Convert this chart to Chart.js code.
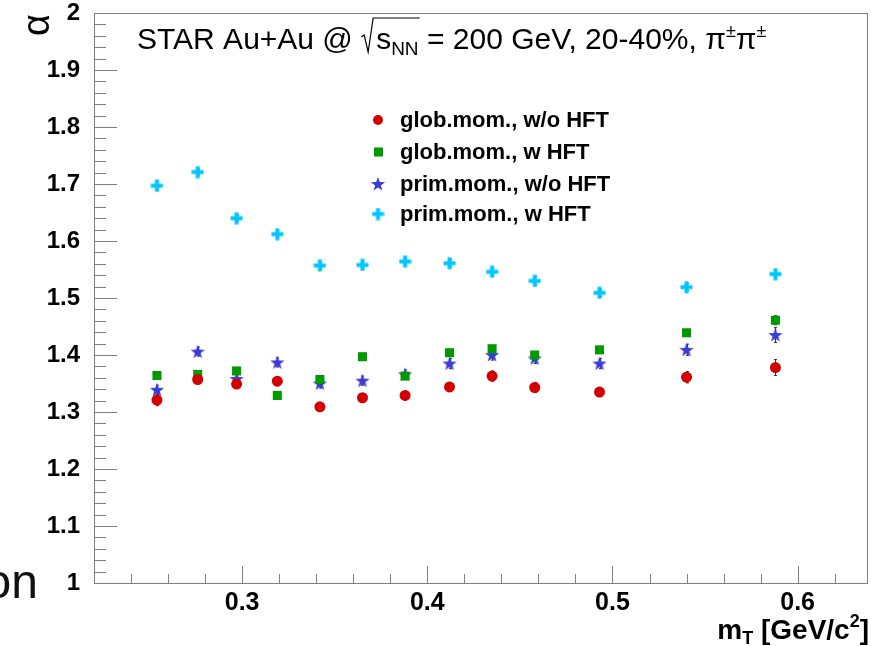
<!DOCTYPE html>
<html>
<head>
<meta charset="utf-8">
<script src="https://cdn.jsdelivr.net/npm/chart.js@4.4.0/dist/chart.umd.min.js"></script>
<style>
  html, body { margin: 0; padding: 0; background: #fff; }
  #wrap { position: relative; width: 871px; height: 646px; }
</style>
</head>
<body>
<div id="wrap"><canvas id="grafico" width="871" height="646"></canvas></div>
<script>
// datos
const mT = [0.254, 0.276, 0.297, 0.319, 0.342, 0.365, 0.388, 0.412, 0.435, 0.458, 0.493, 0.540, 0.588];
const globNoHft = [1.321, 1.357, 1.349, 1.354, 1.309, 1.325, 1.329, 1.344, 1.363, 1.343, 1.335, 1.361, 1.378];
const globHft = [1.364, 1.366, 1.372, 1.329, 1.357, 1.397, 1.363, 1.404, 1.411, 1.400, 1.409, 1.439, 1.461];
const primNoHft = [1.339, 1.406, 1.358, 1.387, 1.350, 1.355, 1.366, 1.385, 1.400, 1.394, 1.385, 1.409, 1.435];
const primHft = [1.697, 1.721, 1.640, 1.612, 1.557, 1.558, 1.564, 1.561, 1.546, 1.530, 1.509, 1.519, 1.542];

const errGlobNoHft = [0.010, 0.006, 0.006, 0.008, 0.006, 0.007, 0.008, 0.008, 0.009, 0.009, 0.006, 0.010, 0.014];
const errGlobHft = [0.004, 0.004, 0.004, 0.004, 0.004, 0.004, 0.005, 0.005, 0.005, 0.006, 0.005, 0.006, 0.008];
const errPrimNoHft = [0.008, 0.008, 0.008, 0.008, 0.008, 0.008, 0.008, 0.009, 0.009, 0.009, 0.009, 0.010, 0.013];
const errPrimHft = [0.008, 0.005, 0.005, 0.005, 0.005, 0.005, 0.005, 0.006, 0.006, 0.007, 0.006, 0.006, 0.008];

const seriesLabels = ['glob.mom., w/o HFT', 'glob.mom., w HFT', 'prim.mom., w/o HFT', 'prim.mom., w HFT'];
const xTickValues = [0.3, 0.4, 0.5, 0.6];
const yTickValues = [1, 1.1, 1.2, 1.3, 1.4, 1.5, 1.6, 1.7, 1.8, 1.9, 2];

const FONT = '"Liberation Sans", Arial, Helvetica, sans-serif';
const colRed = '#d40000';
const colGreen = '#009a00';
const colBlue = '#3b3bd6';
const colCyan = '#00c6ff';

// marcadores tipo ROOT
function crearEstrella(color) {
  const c = document.createElement('canvas');
  c.width = 16; c.height = 16;
  const g = c.getContext('2d');
  g.fillStyle = color;
  g.beginPath();
  for (let i = 0; i < 10; i++) {
    const r = i % 2 === 0 ? 7.5 : 3;
    const a = -Math.PI / 2 + i * Math.PI / 5;
    const px = 8 + r * Math.cos(a), py = 8.5 + r * Math.sin(a);
    if (i === 0) g.moveTo(px, py); else g.lineTo(px, py);
  }
  g.closePath();
  g.fill();
  return c;
}

function crearCruz(color) {
  const c = document.createElement('canvas');
  c.width = 13; c.height = 13;
  const g = c.getContext('2d');
  g.fillStyle = color;
  g.fillRect(4.5, 0.5, 4, 12);
  g.fillRect(0.5, 4.5, 12, 4);
  return c;
}

const estrella = crearEstrella(colBlue);
const cruz = crearCruz(colCyan);

function puntos(ys) {
  return mT.map((x, i) => ({ x: x, y: ys[i] }));
}

const errores = [errGlobNoHft, errGlobHft, errPrimNoHft, errPrimHft];

// barras de error
const pluginErrores = {
  id: 'errores',
  beforeDatasetsDraw(chart) {
    const ctx = chart.ctx;
    const xs = chart.scales.x, ys = chart.scales.y;
    ctx.save();
    ctx.strokeStyle = '#333';
    ctx.lineWidth = 1;
    chart.data.datasets.forEach((ds, k) => {
      ds.data.forEach((p, i) => {
        const px = Math.round(xs.getPixelForValue(p.x)) + 0.5;
        const y1 = ys.getPixelForValue(p.y - errores[k][i]);
        const y2 = ys.getPixelForValue(p.y + errores[k][i]);
        ctx.beginPath();
        ctx.moveTo(px, y1); ctx.lineTo(px, y2);
        ctx.moveTo(px - 1.5, y1); ctx.lineTo(px + 1.5, y1);
        ctx.moveTo(px - 1.5, y2); ctx.lineTo(px + 1.5, y2);
        ctx.stroke();
      });
    });
    ctx.restore();
  }
};

// marco, ticks, titulos y leyenda
const pluginMarco = {
  id: 'marco',
  afterDraw(chart) {
    const ctx = chart.ctx;
    const a = chart.chartArea;
    const xs = chart.scales.x, ys = chart.scales.y;
    ctx.save();
    ctx.strokeStyle = '#808080';
    ctx.lineWidth = 1;
    ctx.strokeRect(Math.round(a.left) + 0.5, Math.round(a.top) + 0.5,
      Math.round(a.right - a.left) - 1, Math.round(a.bottom - a.top));

    ctx.beginPath();
    for (let v = 0.22; v <= xs.max + 1e-9; v += 0.02) {
      const px = Math.round(xs.getPixelForValue(v)) + 0.5;
      const major = Math.abs(v * 10 - Math.round(v * 10)) < 1e-6;
      ctx.moveTo(px, a.bottom);
      ctx.lineTo(px, a.bottom - (major ? 17 : 9));
    }
    for (let v = 1; v <= 2 + 1e-9; v += 0.02) {
      const py = Math.round(ys.getPixelForValue(v)) + 0.5;
      const major = Math.abs(v * 10 - Math.round(v * 10)) < 1e-6;
      ctx.moveTo(a.left, py);
      ctx.lineTo(a.left + (major ? 23 : 12), py);
    }
    ctx.stroke();

    // titulo del eje y
    ctx.fillStyle = '#000';
    ctx.save();
    ctx.translate(39, 25);
    ctx.rotate(-Math.PI / 2);
    ctx.font = '38px ' + FONT;
    ctx.textAlign = 'center';
    ctx.textBaseline = 'middle';
    ctx.fillText('α', 0, 0);
    ctx.restore();

    // titulo del eje x (alineado a la derecha)
    ctx.textBaseline = 'alphabetic';
    ctx.textAlign = 'left';
    const base = 639;
    const piezas = [['m', 28, 0], ['T', 18, 5], [' [GeV/c', 28, 0], ['2', 18, -12], [']', 28, 0]];
    let ancho = 0;
    piezas.forEach(p => { ctx.font = 'bold ' + p[1] + 'px ' + FONT; ancho += ctx.measureText(p[0]).width; });
    let x = 869 - ancho;
    piezas.forEach(p => {
      ctx.font = 'bold ' + p[1] + 'px ' + FONT;
      ctx.fillText(p[0], x, base + p[2]);
      x += ctx.measureText(p[0]).width;
    });

    // titulo del grafico
    const tb = 49;
    x = 137;
    ctx.font = '30px ' + FONT;
    ctx.fillText('STAR Au+Au @ ', x, tb); x += ctx.measureText('STAR Au+Au @ ').width;
    const rx = x;
    x += 15;
    ctx.fillText('s', x, tb); x += ctx.measureText('s').width;
    ctx.font = '19px ' + FONT;
    ctx.fillText('NN', x, tb + 6); x += ctx.measureText('NN').width;
    ctx.beginPath();
    ctx.lineWidth = 1.2;
    ctx.strokeStyle = '#000';
    ctx.moveTo(rx, tb - 12);
    ctx.lineTo(rx + 3, tb - 14);
    ctx.lineTo(rx + 7, tb + 3);
    ctx.lineTo(rx + 12, tb - 31);
    ctx.lineTo(x + 1, tb - 31);
    ctx.stroke();
    ctx.font = '30px ' + FONT;
    ctx.fillText(' = 200 GeV, 20-40%, π', x, tb); x += ctx.measureText(' = 200 GeV, 20-40%, π').width;
    ctx.font = '18px ' + FONT;
    ctx.fillText('±', x, tb - 12); x += ctx.measureText('±').width;
    ctx.font = '30px ' + FONT;
    ctx.fillText('π', x, tb); x += ctx.measureText('π').width;
    ctx.font = '18px ' + FONT;
    ctx.fillText('±', x, tb - 12);

    // leyenda
    const filas = [120, 152, 184, 214];
    chart.data.datasets.forEach((ds, k) => {
      const cy = filas[k];
      ctx.fillStyle = ds.backgroundColor;
      if (ds.pointStyle === 'circle') {
        ctx.beginPath(); ctx.arc(378, cy, 5, 0, Math.PI * 2); ctx.fill();
      } else if (ds.pointStyle === 'rect') {
        ctx.fillRect(374, cy - 4.5, 9, 9);
      } else {
        ctx.drawImage(ds.pointStyle, 378 - ds.pointStyle.width / 2, cy - ds.pointStyle.height / 2);
      }
      ctx.fillStyle = '#000';
      ctx.font = 'bold 22px ' + FONT;
      ctx.textBaseline = 'middle';
      ctx.fillText(ds.label, 400, cy + 1);
      ctx.textBaseline = 'alphabetic';
    });

    // texto cortado a la izquierda
    ctx.font = '48px ' + FONT;
    ctx.fillStyle = '#111';
    ctx.textAlign = 'right';
    ctx.fillText('on', 38, 598);
    ctx.restore();
  }
};

const ctx = document.getElementById('grafico').getContext('2d');

new Chart(ctx, {
  type: 'scatter',
  data: {
    datasets: [
      { label: seriesLabels[0], data: puntos(globNoHft), pointStyle: 'circle', pointRadius: 5.5,
        backgroundColor: colRed, borderColor: colRed, borderWidth: 0 },
      { label: seriesLabels[1], data: puntos(globHft), pointStyle: 'rect', pointRadius: 6.4,
        backgroundColor: colGreen, borderColor: colGreen, borderWidth: 0 },
      { label: seriesLabels[2], data: puntos(primNoHft), pointStyle: estrella, pointRadius: 8,
        backgroundColor: colBlue, borderColor: colBlue, borderWidth: 0 },
      { label: seriesLabels[3], data: puntos(primHft), pointStyle: cruz, pointRadius: 7,
        backgroundColor: colCyan, borderColor: colCyan, borderWidth: 0 }
    ]
  },
  options: {
    responsive: false,
    animation: false,
    devicePixelRatio: 1,
    layout: { autoPadding: false, padding: { top: 13, right: 3, left: 0, bottom: 0 } },
    plugins: {
      legend: { display: false },
      tooltip: { enabled: false }
    },
    scales: {
      x: {
        type: 'linear',
        min: 0.22,
        max: 0.638,
        grid: { display: false },
        border: { display: false },
        afterBuildTicks: s => { s.ticks = xTickValues.map(v => ({ value: v })); },
        afterFit: s => { s.height = 63; s.paddingLeft = 0; s.paddingRight = 0; },
        ticks: {
          color: '#000',
          font: { family: FONT, size: 25, weight: 'bold' },
          padding: -3,
          maxRotation: 0,
          callback: v => Number(v).toFixed(1)
        }
      },
      y: {
        type: 'linear',
        min: 1,
        max: 2,
        grid: { display: false },
        border: { display: false },
        afterBuildTicks: s => { s.ticks = yTickValues.map(v => ({ value: v })); },
        afterFit: s => { s.width = 94; s.paddingTop = 0; s.paddingBottom = 0; },
        ticks: {
          color: '#000',
          font: { family: FONT, size: 24, weight: 'bold' },
          padding: 6,
          callback: v => (v === 1 || v === 2) ? String(v) : Number(v).toFixed(1)
        }
      }
    }
  },
  plugins: [pluginErrores, pluginMarco]
});
</script>
</body>
</html>
